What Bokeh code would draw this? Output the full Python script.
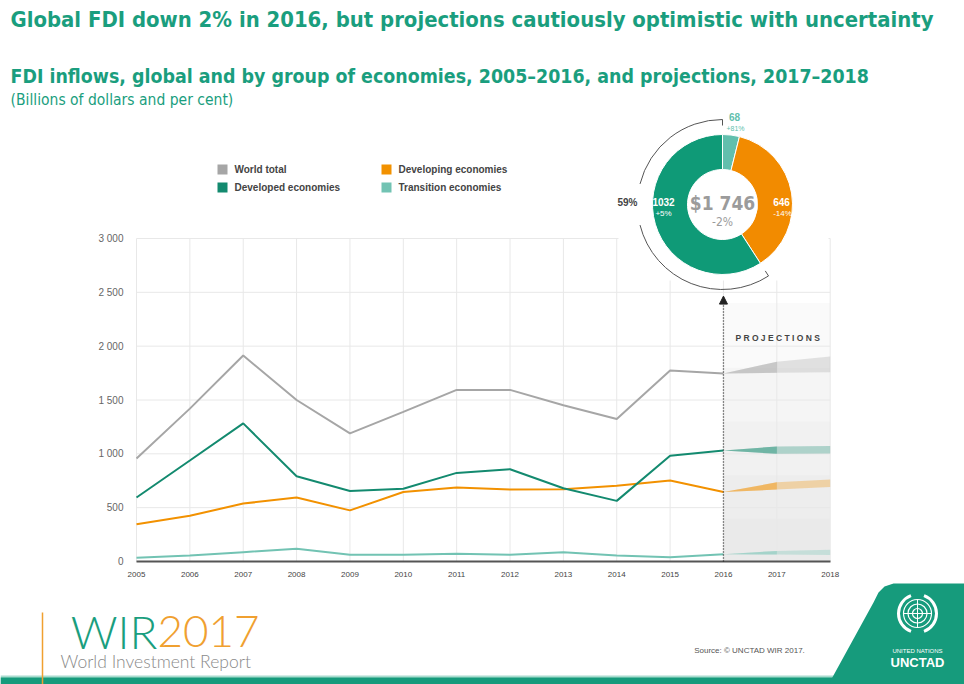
import math
from bokeh.plotting import figure
from bokeh.models import Range1d, LinearAxis, FixedTicker, Arrow, NormalHead
from bokeh.core.properties import value
from bokeh.embed import file_html
from bokeh.resources import INLINE

# ---------------- data ----------------
years = [2005, 2006, 2007, 2008, 2009, 2010, 2011, 2012, 2013, 2014, 2015, 2016]
world_total = [957, 1420, 1913, 1500, 1190, 1390, 1594, 1594, 1452, 1324, 1774, 1746]
developed = [594, 938, 1283, 792, 655, 675, 823, 857, 680, 563, 982, 1032]
developing = [345, 425, 538, 594, 475, 646, 687, 668, 672, 703, 752, 646]
transition = [34, 56, 87, 118, 62, 62, 72, 62, 85, 56, 40, 68]

proj_years = [2016, 2017, 2018]
world_low = [1746, 1752, 1758]
world_high = [1746, 1855, 1905]
developed_low = [1032, 1000, 1003]
developed_high = [1032, 1068, 1072]
developing_low = [646, 668, 692]
developing_high = [646, 735, 762]
transition_low = [68, 64, 60]
transition_high = [68, 98, 108]

axis_years = [2005, 2006, 2007, 2008, 2009, 2010, 2011, 2012, 2013, 2014, 2015, 2016, 2017, 2018]
y_ticks = [0, 500, 1000, 1500, 2000, 2500, 3000]
y_tick_labels = ["0", "500", "1 000", "1 500", "2 000", "2 500", "3 000"]

series_names = ["World total", "Developed economies", "Developing economies", "Transition economies"]
series_colors = ["#a6a6a6", "#138a6f", "#f29100", "#72c3b3"]

donut_groups = ["Transition economies", "Developing economies", "Developed economies"]
donut_values = [68, 646, 1032]
donut_changes = ["+81%", "-14%", "+5%"]
donut_colors = ["#62bfad", "#f28b00", "#0f9a77"]
donut_total_label = "$1 746"
donut_total_change = "-2%"
developed_share_label = "59%"

title_text = "Global FDI down 2% in 2016, but projections cautiously optimistic with uncertainty"
subtitle_text = "FDI inflows, global and by group of economies, 2005\u20132016, and projections, 2017\u20132018"
units_text = "(Billions of dollars and per cent)"
source_text = "Source: \u00a9 UNCTAD WIR 2017."

TEAL = "#1a9e7e"
NARROW = "DejaVu Sans Condensed, sans-serif"
SANS = "Liberation Sans, Arial, sans-serif"
THIN = "Lato Light, Lato, sans-serif"

W, H = 964, 684
# data -> pixel calibration
PX_PER_YEAR = 53.36
X_2005 = 136.0
PX_PER_UNIT = 323.0 / 3000.0
Y_ZERO = 561.0
x0 = 2005 - X_2005 / PX_PER_YEAR
x1 = x0 + W / PX_PER_YEAR
y_top = Y_ZERO / PX_PER_UNIT
y_bot = -(H - Y_ZERO) / PX_PER_UNIT

p = figure(width=W, height=H, x_range=Range1d(x0, x1), y_range=Range1d(y_bot, y_top),
           output_backend="svg", toolbar_location=None, min_border=0,
           x_axis_type=None, y_axis_type=None, title=None)
p.outline_line_color = None
p.background_fill_color = "white"
p.border_fill_color = "white"
p.extra_x_ranges = {"px": Range1d(0, W)}
p.extra_y_ranges = {"px": Range1d(H, 0)}
PX = dict(x_range_name="px", y_range_name="px")


def ptext(x, y, s, size, color, font=SANS, style="normal", align="left", baseline="middle"):
    p.text(x=[x], y=[y], text=[s], text_font=value(font), text_font_size=f"{size}px",
           text_color=color, text_font_style=style, text_align=align,
           text_baseline=baseline, **PX)


# ---------------- projection shading ----------------
for top in [2400, 1800, 1300, 800, 400]:
    p.quad(left=[proj_years[0]], right=[proj_years[-1]], bottom=[0], top=[top],
           fill_color="#d8d8d8", fill_alpha=0.12, line_color=None)

# ---------------- grid ----------------
p.segment(x0=[axis_years[0]] * len(y_ticks), x1=[axis_years[-1]] * len(y_ticks),
          y0=y_ticks, y1=y_ticks, line_color="#e8e8e8", line_width=1)
p.segment(x0=axis_years, x1=axis_years, y0=[0] * len(axis_years),
          y1=[y_ticks[-1]] * len(axis_years), line_color="#e8e8e8", line_width=1)

# ---------------- projection bands ----------------
bands = [(world_low, world_high), (developed_low, developed_high),
         (developing_low, developing_high), (transition_low, transition_high)]
for (lo, hi), col in zip(bands, series_colors):
    p.varea(x=proj_years, y1=lo, y2=hi, fill_color=col, fill_alpha=0.3)
    p.varea(x=proj_years[:2], y1=lo[:2], y2=hi[:2], fill_color=col, fill_alpha=0.4)

# ---------------- lines ----------------
for vals, col in zip([world_total, developing, developed, transition],
                     [series_colors[0], series_colors[2], series_colors[1], series_colors[3]]):
    p.line(years, vals, line_color=col, line_width=2)

# ---------------- axes ----------------
xaxis = LinearAxis(fixed_location=0, ticker=FixedTicker(ticks=axis_years),
                   bounds=(axis_years[0], axis_years[-1]),
                   axis_line_color="#555555", axis_line_width=2,
                   major_tick_line_color=None, minor_tick_line_color=None,
                   major_tick_out=0, major_tick_in=0,
                   major_label_standoff=10, major_label_text_font_size="8px",
                   major_label_text_color="#444444", major_label_text_font=SANS)
p.add_layout(xaxis, "below")
yaxis = LinearAxis(fixed_location=axis_years[0], ticker=FixedTicker(ticks=y_ticks),
                   bounds=(y_ticks[0], y_ticks[-1]),
                   major_label_overrides={t: l for t, l in zip(y_ticks, y_tick_labels)},
                   axis_line_color=None,
                   major_tick_line_color=None, minor_tick_line_color=None,
                   major_tick_out=0, major_tick_in=0,
                   major_label_standoff=13, major_label_text_font_size="10px",
                   major_label_text_color="#666666", major_label_text_font=SANS)
p.add_layout(yaxis, "left")

# ---------------- projections marker ----------------
p.add_layout(Arrow(x_start=proj_years[0], y_start=0, x_end=proj_years[0], y_end=2465,
                   line_color="#222222", line_width=1.3, line_dash="1 2",
                   end=NormalHead(size=8, fill_color="#222222", line_color="#222222")))
ptext(735, 337, " ".join("PROJECTIONS"), 8.5, "#444444", style="bold")

# ---------------- legend ----------------
leg_pos = [(222, 169), (222, 187), (386, 169), (386, 187)]
for (lx, ly), name, col in zip(leg_pos, series_names, series_colors):
    p.scatter(x=[lx], y=[ly], marker="square", size=10, fill_color=col, line_color=None, **PX)
    ptext(lx + 12, ly, name, 10, "#444444", style="bold")

# ---------------- donut ----------------
CX, CY = 722, 204
p.quad(left=[618], right=[828], top=[100], bottom=[280], fill_color="white", line_color=None, **PX)
total = sum(donut_values)
cum = 0.0
starts, ends = [], []
for v in donut_values:
    starts.append(math.pi / 2 - 2 * math.pi * cum / total)
    cum += v
    ends.append(math.pi / 2 - 2 * math.pi * cum / total)
p.annular_wedge(x=[CX] * 3, y=[CY] * 3, inner_radius=35, outer_radius=70,
                inner_radius_units="screen", outer_radius_units="screen",
                start_angle=starts, end_angle=ends, direction="clock",
                fill_color=donut_colors, line_color="white", line_width=1, **PX)

# bracket around developed share
R = 85
a_start = starts[2] + 2 * math.pi  # end of bracket (bottom right)
a_end = math.pi / 2
gap = math.radians(14)
p.arc(x=[CX, CX], y=[CY, CY], radius=R, radius_units="screen",
      start_angle=[a_end, math.pi + gap], end_angle=[math.pi - gap, a_start],
      direction="anticlock", line_color="#555555", line_width=1, **PX)
hx0, hy0, hx1, hy1 = [], [], [], []
for a in [a_end, a_start]:
    hx0.append(CX + R * math.cos(a)); hy0.append(CY - R * math.sin(a))
    hx1.append(CX + (R - 6) * math.cos(a)); hy1.append(CY - (R - 6) * math.sin(a))
p.segment(x0=hx0, y0=hy0, x1=hx1, y1=hy1, line_color="#555555", line_width=1, **PX)

ptext(CX, 202, donut_total_label, 19, "#9b9b9b", font=NARROW, style="bold", align="center")
ptext(CX, 221, donut_total_change, 12, "#9b9b9b", font=NARROW, align="center")
ptext(663, 201, str(donut_values[2]), 10, "white", style="bold", align="center")
ptext(663, 213, donut_changes[2], 8, "white", align="center")
ptext(781, 201, str(donut_values[1]), 10, "white", style="bold", align="center")
ptext(782, 213, donut_changes[1], 8, "white", align="center")
ptext(734, 116, str(donut_values[0]), 10, donut_colors[0], style="bold", align="center")
ptext(735, 128, donut_changes[0], 7, donut_colors[0], align="center")
ptext(627, 202, developed_share_label, 10, "#444444", style="bold", align="center")

# ---------------- titles ----------------
ptext(10, 19, title_text, 21.9, TEAL, font=NARROW, style="bold")
ptext(10, 76, subtitle_text, 19.4, TEAL, font=NARROW, style="bold")
ptext(10, 99, units_text, 15.5, TEAL, font=NARROW)

# ---------------- footer ----------------
p.quad(left=[0], right=[W], top=[675], bottom=[H], fill_color="#a9dccf", line_color=None, **PX)
p.quad(left=[0], right=[W], top=[677], bottom=[H], fill_color="#169b7c", line_color=None, **PX)
p.patch(x=[964, 893, 884, 878, 873, 828, 964], y=[583, 583, 586, 592, 602, 684, 684],
        fill_color="#169b7c", line_color=None, **PX)
p.segment(x0=[42], y0=[612], x1=[42], y1=[684], line_color="#f0a030", line_width=1.5, **PX)
ptext(157, 631, "WIR", 46, TEAL, font=THIN, align="right")
ptext(157, 631, "2017", 44, "#f0a030", font=THIN, align="left")
ptext(60, 661, "World Investment Report", 17.5, "#8a8a8a", font=THIN)
ptext(749, 650, source_text, 8, "#555555", align="center")

# UN emblem (simplified)
EX, EY = 917, 613
p.scatter(x=[EX] * 3, y=[EY] * 3, marker="circle", size=[28, 19, 10], fill_color=None,
          line_color="white", line_width=1.2, **PX)
p.segment(x0=[EX - 14, EX], y0=[EY, EY - 14], x1=[EX + 14, EX], y1=[EY, EY + 14],
          line_color="white", line_width=1, **PX)
p.arc(x=[EX, EX], y=[EY, EY], radius=19, radius_units="screen",
      start_angle=[math.radians(110), math.radians(-70)],
      end_angle=[math.radians(250), math.radians(70)],
      direction="anticlock", line_color="white", line_width=3, **PX)
ptext(EX, 650, "UNITED NATIONS", 6, "white", align="center")
ptext(EX, 662, "UNCTAD", 13, "white", style="bold", align="center")

open("out.html", "w").write(file_html(p, INLINE))
